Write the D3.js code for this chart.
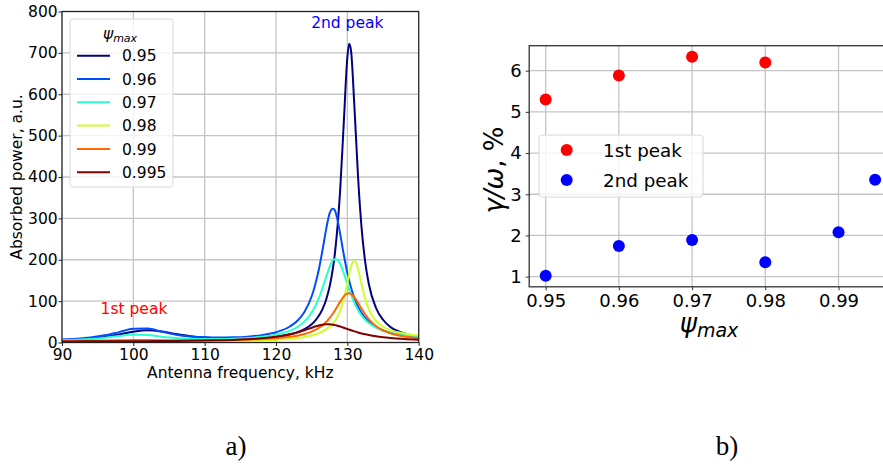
<!DOCTYPE html>
<html><head><meta charset="utf-8">
<script src="https://cdn.jsdelivr.net/npm/d3@7"></script>
<style>
html,body{margin:0;padding:0;background:#fff;}
svg{display:block;font-family:"DejaVu Sans",sans-serif;}
</style></head><body>
<svg id="c" width="883" height="466"></svg>
<script>
// ---------- DATA (panel a) ----------
const freq = [90,92,94,96,98,100,102,104,106,108,110,112,114,116,118,120,122,123,124,125,125.5,126,126.5,127,127.25,127.5,128,128.25,128.5,129,129.5,130,130.25,130.5,131,131.5,132,132.5,133,134,135,136,138,140];
const p095 = [5.5,7.2,9.7,13.6,19.3,26,29.6,26.5,20.3,15.1,11.9,10.1,9.5,9.8,11.2,14.2,20,25,32.5,44.3,53,64.5,80,102,117,134,182,215,257,371,532,689,722,707,566,400,276,195,142,84,55,38,22,14];
const p096 = [7.4,9.3,12.3,17.3,25.1,33.3,33.6,26,18.8,14.6,12.6,11.9,12.5,14.2,17.8,24.7,39.2,52.5,74.4,111.7,140.3,176.5,221.7,271,293.6,311.7,323,319.4,305.2,261.3,212,168.3,149.7,133.5,106.8,86.6,71.3,59.6,50.5,37.6,29.2,23.5,16.4,12.4];
const p097 = [5.3,6.4,8.2,11.2,15.5,19.3,18.1,14,10.8,9.1,8.5,8.5,9.3,10.8,13.7,18.7,28.7,37.4,51,72.5,87.9,107.2,130.5,156.7,169.8,181.9,199.5,201,200.5,190.3,167.2,140.8,128,116,95,78.2,65,55,47,36,28.5,23.5,18,15];
const p098 = [1.4,1.5,1.6,1.6,1.7,1.8,1.9,2.0,2.1,2.4,2.6,3.0,3.4,4.1,5.1,6.5,8.9,10.8,13.3,17.1,19.5,22.7,26.6,31.8,35,38.6,46,52,59,78,106,144,165,183.5,198,178,140,106,80,52,38,30,22,17];
const p099 = [3.8,4,4.3,4.7,5.2,5.8,5.9,5.6,5.3,5.3,5.4,5.7,6.2,7,8.2,10.2,13.7,16.5,20.4,26.3,30.3,35.2,41.4,49.2,53.8,58.9,70.7,77.3,84.4,98.7,111.3,118.4,119,117.6,109,95.8,81.4,68.1,56.7,40,29.3,22.4,14.6,10.6];
const p0995 = [2.6,2.7,2.8,2.9,3,3.1,3.3,3.5,3.8,4.2,4.7,5.4,6.3,7.8,10,13.7,19.8,24.2,29.6,35.6,38.5,41,42.9,43.9,44,43.9,42.9,42,41,38.5,35.6,32.6,31.1,29.6,26.8,24.2,21.9,19.8,18,14.9,12.6,10.8,8.3,6.7];
const seriesLabels = ["0.95","0.96","0.97","0.98","0.99","0.995"];
const freqTicks = [90,100,110,120,130,140];
const powerTicks = [0,100,200,300,400,500,600,700,800];

// ---------- DATA (panel b) ----------
const psi1 = [0.95,0.96,0.97,0.98];
const peak1 = [5.30,5.88,6.34,6.20];
const psi2 = [0.95,0.96,0.97,0.98,0.99,0.995];
const peak2 = [1.02,1.745,1.89,1.35,2.08,3.35];
const psiTicks = [0.95,0.96,0.97,0.98,0.99];
const ratioTicks = [1,2,3,4,5,6];

// ---------- STYLE ----------
const colors = ["#000080","#004cff","#29ffce","#ceff29","#ff6800","#800000"];
const gridCol = "#c4c4c4";
const svg = d3.select("#c");
const series = [p095,p096,p097,p098,p099,p0995];

// ================= PANEL A =================
const xL = d3.scaleLinear().domain([90,140]).range([62,418.7]);
const yL = d3.scaleLinear().domain([0,800]).range([342.5,11.5]);
const gA = svg.append("g");
svg.append("defs").append("clipPath").attr("id","clipL").append("rect")
  .attr("x",xL(90)).attr("y",yL(800)).attr("width",xL(140)-xL(90)).attr("height",yL(0)-yL(800));

gA.append("g").selectAll("line").data(freqTicks).join("line")
  .attr("x1",d=>xL(d)).attr("x2",d=>xL(d)).attr("y1",yL(0)).attr("y2",yL(800))
  .attr("stroke",gridCol).attr("stroke-width",1.3);
gA.append("g").selectAll("line").data(powerTicks).join("line")
  .attr("y1",d=>yL(d)).attr("y2",d=>yL(d)).attr("x1",xL(90)).attr("x2",xL(140))
  .attr("stroke",gridCol).attr("stroke-width",1.3);

const lineL = d3.line().x((d,i)=>xL(freq[i])).y(d=>yL(d)).curve(d3.curveMonotoneX);
series.forEach((s,i)=>{
  gA.append("path").attr("d",lineL(s)).attr("fill","none").attr("stroke",colors[i])
    .attr("stroke-width",2).attr("clip-path","url(#clipL)");
});

gA.append("rect").attr("x",xL(90)).attr("y",yL(800)).attr("width",xL(140)-xL(90)).attr("height",yL(0)-yL(800))
  .attr("fill","none").attr("stroke","#222").attr("stroke-width",1.2);

const axA_x = gA.append("g").attr("transform",`translate(0,${yL(0)})`)
  .call(d3.axisBottom(xL).tickValues(freqTicks).tickSize(3.5).tickPadding(3).tickFormat(d3.format("d")));
const axA_y = gA.append("g").attr("transform",`translate(${xL(90)},0)`)
  .call(d3.axisLeft(yL).tickValues(powerTicks).tickSize(3.5).tickPadding(0.8).tickFormat(d3.format("d")));
[axA_x,axA_y].forEach(a=>{
  a.select(".domain").remove();
  a.selectAll("text").attr("font-size",15.5).attr("fill","#000").attr("font-family","DejaVu Sans");
  a.selectAll("line").attr("stroke","#222");
});

gA.append("text").attr("x",(xL(90)+xL(140))/2).attr("y",378).attr("text-anchor","middle")
  .attr("font-size",15.5).text("Antenna frequency, kHz");
gA.append("text").attr("transform",`translate(22,${(yL(0)+yL(800))/2}) rotate(-90)`)
  .attr("text-anchor","middle").attr("font-size",15.5).text("Absorbed power, a.u.");

gA.append("text").attr("x",347.3).attr("y",28).attr("text-anchor","middle").attr("font-size",15.5)
  .attr("fill","#0000ff").text("2nd peak");
gA.append("text").attr("x",134).attr("y",314).attr("text-anchor","middle").attr("font-size",15.5)
  .attr("fill","#ff0000").text("1st peak");

// legend A
const legA = gA.append("g");
legA.append("rect").attr("x",70).attr("y",19).attr("width",103).attr("height",168).attr("rx",3)
  .attr("fill","#fff").attr("fill-opacity",0.8).attr("stroke","#d8d8d8").attr("stroke-width",1);
const ttl = legA.append("text").attr("x",120).attr("y",39).attr("text-anchor","middle");
ttl.append("tspan").attr("font-size",15.5).attr("font-style","italic").text("ψ");
ttl.append("tspan").attr("font-size",11).attr("font-style","italic").attr("dy",3).text("max");
seriesLabels.forEach((lab,i)=>{
  const yy = 55.7 + i*23.3;
  legA.append("line").attr("x1",77).attr("x2",110).attr("y1",yy).attr("y2",yy)
    .attr("stroke",colors[i]).attr("stroke-width",2);
  legA.append("text").attr("x",122).attr("y",yy+5.6).attr("font-size",15.5).text(lab);
});

// ================= PANEL B =================
const xR = d3.scaleLinear().domain([0.94775,0.99725]).range([529.2,891.6]);
const yR = d3.scaleLinear().domain([0.754,6.606]).range([286.8,45.7]);
const gB = svg.append("g");
gB.append("g").selectAll("line").data(psiTicks).join("line")
  .attr("x1",d=>xR(d)).attr("x2",d=>xR(d)).attr("y1",yR.range()[0]).attr("y2",yR.range()[1])
  .attr("stroke",gridCol).attr("stroke-width",1.3);
gB.append("g").selectAll("line").data(ratioTicks).join("line")
  .attr("y1",d=>yR(d)).attr("y2",d=>yR(d)).attr("x1",xR.range()[0]).attr("x2",xR.range()[1])
  .attr("stroke",gridCol).attr("stroke-width",1.3);

gB.append("g").selectAll("circle").data(psi1).join("circle")
  .attr("cx",d=>xR(d)).attr("cy",(d,i)=>yR(peak1[i])).attr("r",6).attr("fill","#ff0000");
gB.append("g").selectAll("circle").data(psi2).join("circle")
  .attr("cx",d=>xR(d)).attr("cy",(d,i)=>yR(peak2[i])).attr("r",6).attr("fill","#0000ff");

gB.append("rect").attr("x",xR.range()[0]).attr("y",yR.range()[1])
  .attr("width",xR.range()[1]-xR.range()[0]).attr("height",yR.range()[0]-yR.range()[1])
  .attr("fill","none").attr("stroke","#333").attr("stroke-width",1.3);

const axB_x = gB.append("g").attr("transform",`translate(0,${yR.range()[0]})`)
  .call(d3.axisBottom(xR).tickValues(psiTicks).tickSize(3.5).tickPadding(3.5).tickFormat(d3.format(".2f")));
const axB_y = gB.append("g").attr("transform",`translate(${xR.range()[0]},0)`)
  .call(d3.axisLeft(yR).tickValues(ratioTicks).tickSize(3.5).tickPadding(4).tickFormat(d3.format("d")));
[axB_x,axB_y].forEach(a=>{
  a.select(".domain").remove();
  a.selectAll("text").attr("font-size",18).attr("fill","#000").attr("font-family","DejaVu Sans");
  a.selectAll("line").attr("stroke","#333");
});

const xl = gB.append("text").attr("x",709).attr("y",332).attr("text-anchor","middle");
xl.append("tspan").attr("font-size",26).attr("font-style","italic").text("ψ");
xl.append("tspan").attr("font-size",19).attr("font-style","italic").attr("dy",5).text("max");

const yl = gB.append("text").attr("transform",`translate(503,170) rotate(-90)`).attr("text-anchor","middle");
yl.append("tspan").attr("font-size",26).attr("font-style","italic").text("γ/ω");
yl.append("tspan").attr("font-size",26).text(", %");

// legend B
const legB = gB.append("g");
legB.append("rect").attr("x",539).attr("y",135).attr("width",164).attr("height",62).attr("rx",3)
  .attr("fill","#fff").attr("fill-opacity",0.8).attr("stroke","#d8d8d8").attr("stroke-width",1);
[["1st peak","#ff0000"],["2nd peak","#0000ff"]].forEach((e,i)=>{
  const yy = 150 + i*30;
  legB.append("circle").attr("cx",566.7).attr("cy",yy).attr("r",6).attr("fill",e[1]);
  legB.append("text").attr("x",603).attr("y",yy+6.6).attr("font-size",18.3).text(e[0]);
});

// panel captions
svg.append("text").attr("x",236).attr("y",455).attr("text-anchor","middle")
  .attr("font-family","'Liberation Serif','DejaVu Serif',serif").attr("font-size",27).text("a)");
svg.append("text").attr("x",727).attr("y",455).attr("text-anchor","middle")
  .attr("font-family","'Liberation Serif','DejaVu Serif',serif").attr("font-size",27).text("b)");
</script>
</body></html>
